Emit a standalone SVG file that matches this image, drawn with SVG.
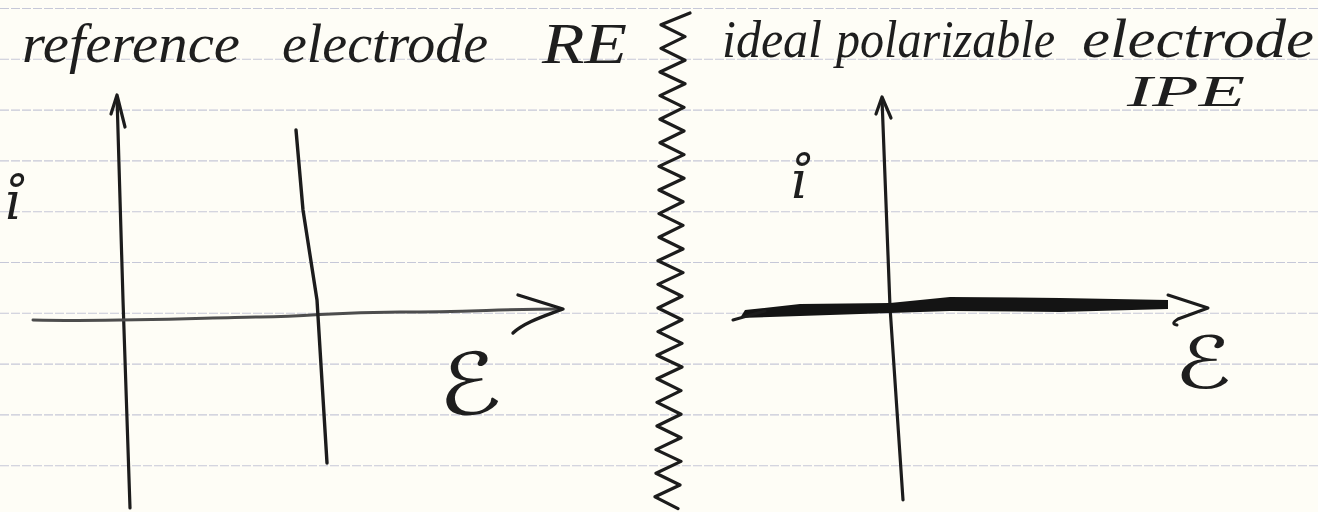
<svg xmlns="http://www.w3.org/2000/svg" width="1318" height="512" viewBox="0 0 1318 512">
  <style>
    .paper { fill: #fefdf6; }
    .rule { stroke: #c6c8d8; stroke-width: 1.1; stroke-dasharray: 9 2; }
    .hand { font-family: "Liberation Serif", "DejaVu Serif", serif; font-style: italic; fill: #1e1e1e; }
    .sym { font-family: "DejaVu Serif", "DejaVu Sans", serif; font-style: italic; fill: #1e1e1e; }
    .ink { fill: none; stroke: #1c1c1c; stroke-linecap: round; stroke-linejoin: round; }
    .pencil { fill: none; stroke: #4d4d4d; stroke-linecap: round; stroke-linejoin: round; }
  </style>
  <rect class="paper" x="0" y="0" width="1318" height="512"/>
  <g id="ruled-lines">
    <line class="rule" x1="0" y1="8.5" x2="1318" y2="8.5"/>
    <line class="rule" x1="0" y1="59.3" x2="1318" y2="59.3"/>
    <line class="rule" x1="0" y1="110.1" x2="1318" y2="110.1"/>
    <line class="rule" x1="0" y1="160.9" x2="1318" y2="160.9"/>
    <line class="rule" x1="0" y1="211.7" x2="1318" y2="211.7"/>
    <line class="rule" x1="0" y1="262.5" x2="1318" y2="262.5"/>
    <line class="rule" x1="0" y1="313.3" x2="1318" y2="313.3"/>
    <line class="rule" x1="0" y1="364.1" x2="1318" y2="364.1"/>
    <line class="rule" x1="0" y1="414.9" x2="1318" y2="414.9"/>
    <line class="rule" x1="0" y1="465.7" x2="1318" y2="465.7"/>
  </g>

  <g id="title-re">
    <text class="hand" x="22" y="62" font-size="54" textLength="218" lengthAdjust="spacingAndGlyphs">reference</text>
    <text class="hand" x="282" y="62" font-size="54" textLength="206" lengthAdjust="spacingAndGlyphs">electrode</text>
    <text class="hand" x="542" y="63" font-size="56" textLength="85" lengthAdjust="spacingAndGlyphs">RE</text>
  </g>
  <g id="title-ipe">
    <text class="hand" x="722" y="57" font-size="52" textLength="100" lengthAdjust="spacingAndGlyphs">ideal</text>
    <text class="hand" x="836" y="57" font-size="52" textLength="219" lengthAdjust="spacingAndGlyphs">polarizable</text>
    <text class="hand" x="1082" y="57" font-size="54" textLength="232" lengthAdjust="spacingAndGlyphs">electrode</text>
    <text class="hand" x="1127" y="106" font-size="44" textLength="118" lengthAdjust="spacingAndGlyphs">IPE</text>
  </g>

  <g id="label-i-left">
    <text class="sym" x="4" y="219" font-size="52">ı̊</text>
  </g>
  <g id="label-i-right">
    <text class="sym" x="790" y="198" font-size="52">ı̊</text>
  </g>
  <g id="label-E-left">
    <text class="sym" x="436" y="414" font-size="84" textLength="64" lengthAdjust="spacingAndGlyphs" transform="rotate(-8 470 385)">ℰ</text>
  </g>
  <g id="label-E-right">
    <text class="sym" x="1174" y="388" font-size="72" textLength="58" lengthAdjust="spacingAndGlyphs">ℰ</text>
  </g>

  <g id="divider">
    <polyline class="ink" stroke-width="3.2" points="690,13 661,24.8 685,36.6 661,48.4 685,60.2 660,72 685,83.8 660,95.6 684,107.4 660,119.2 684,131 660,142.8 684,154.6 659,166.4 684,178.2 659,190 683,201.8 659,213.6 683,225.4 659,237.2 683,249 658,260.8 683,272.6 658,284.4 682,296.2 658,308 682,319.8 658,331.6 682,343.4 657,355.2 682,367 657,378.8 681,390.6 657,402.4 681,414.2 657,426 681,437.8 656,449.6 681,461.4 656,473.2 680,485 655,496.8 678,508.6"/>
  </g>

  <g id="connectors">
    <!-- left panel -->
    <path id="left-y-axis" class="ink" stroke-width="3.2" d="M117,97 L123,300 L130,508"/>
    <path id="left-y-arrow" class="ink" stroke-width="3.2" d="M111,114 L117,95 L125,127"/>
    <path id="left-x-axis" class="pencil" stroke-width="3" d="M33,320 C120,322 200,318 260,317 S330,312 400,312 S500,309 561,309"/>
    <path id="left-x-arrow" class="ink" stroke-width="3.4" d="M518,295 L563,309 C545,316 525,322 513,333"/>
    <path id="re-curve" class="ink" stroke-width="3.4" d="M296,130 L303,210 L317,300 L327,463"/>
    <!-- right panel -->
    <path id="right-y-axis" class="ink" stroke-width="3.2" d="M882,99 L890,307 L903,500"/>
    <path id="right-y-arrow" class="ink" stroke-width="3.2" d="M876,114 L882,97 L891,118"/>
    <path id="ipe-curve" fill="#141414" d="M745,310 L800,304 L890,303 L950,297 L1060,298 L1168,300 L1168,309 L1060,312 L950,311 L890,313 L800,316 L740,318 Z"/>
    <path class="ink" stroke-width="3" d="M733,320 L765,311"/>
    <path id="right-x-arrow" class="ink" stroke-width="3" d="M1168,295 L1208,308 L1178,319 Q1170,324 1177,325"/>
  </g>
</svg>
